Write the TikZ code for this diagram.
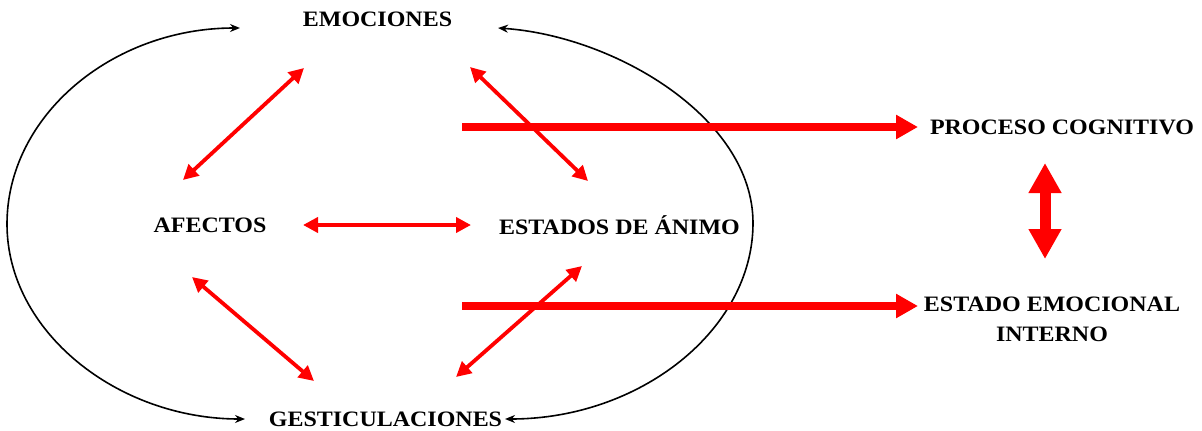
\documentclass[tikz,border=0pt]{standalone}
\usepackage{fontspec}
\setmainfont{Liberation Serif}
\usetikzlibrary{arrows.meta}
\newcommand{\lbl}[1]{\scalebox{1.09}[1]{#1}}
\begin{document}
\begin{tikzpicture}[x=1pt,y=-1pt,
  lab/.style={font=\fontsize{22}{30}\selectfont\bfseries, inner sep=0pt, align=center},
  thinred/.style={draw=red, line width=3.8pt, {Triangle[length=15pt,width=15pt]}-{Triangle[length=15pt,width=15pt]}, shorten <=0pt, shorten >=0pt},
  bigred/.style={draw=red, line width=7.5pt, -{Triangle[length=22pt,width=23pt]}},
  curve/.style={draw=black, line width=1.6pt, {Stealth[length=10pt,width=8pt]}-{Stealth[length=10pt,width=8pt]}}
]
\useasboundingbox (0,0) rectangle (1202,431);
\fill[white] (0,0) rectangle (1202,431);

% labels
\node[lab] (emo) at (377.5,19.5) {\lbl{EMOCIONES}};
\node[lab] (afe) at (210,225) {\lbl{AFECTOS}};
\node[lab] (est) at (619.5,225) {\lbl{ESTADOS DE ÁNIMO}};
\node[lab] (ges) at (385.5,419.5) {\lbl{GESTICULACIONES}};
\node[lab] (pro) at (1062,127) {\lbl{PROCESO COGNITIVO}};
\node[lab] (eei) at (1052,319) {\lbl{ESTADO EMOCIONAL}\\\lbl{INTERNO}};

% arrow end points
\coordinate (a1) at (304,68);  \coordinate (a2) at (183,180);
\coordinate (b1) at (470,67);  \coordinate (b2) at (588,181);
\coordinate (c1) at (303,225); \coordinate (c2) at (471,225);
\coordinate (d1) at (192,277); \coordinate (d2) at (314,381);
\coordinate (e1) at (582,266); \coordinate (e2) at (456,377);
\coordinate (p0) at (462,127); \coordinate (p1) at (918,127);
\coordinate (q0) at (462,306); \coordinate (q1) at (918,306);
\coordinate (v1) at (1045,163); \coordinate (v2) at (1045,259);

% black curves
\coordinate (lt) at (240,28); \coordinate (lm) at (7,224); \coordinate (lb) at (245,419);
\coordinate (rt) at (498,28); \coordinate (rm) at (753,223); \coordinate (rb) at (505,419);
\draw[curve] (lt) .. controls (112,28) and (7,116) .. (lm)
             .. controls (7,332) and (118,419) .. (lb);
\draw[curve] (rt) .. controls (615,36) and (753,118) .. (rm)
             .. controls (753,330) and (640,419) .. (rb);

% thin red double arrows
\draw[thinred] (a1) -- (a2);
\draw[thinred] (c1) -- (c2);
\draw[thinred] (d1) -- (d2);

% thick red arrows
\draw[bigred] (p0) -- (p1);
\draw[bigred] (q0) -- (q1);

\draw[thinred] (b1) -- (b2);
\draw[thinred] (e1) -- (e2);

% vertical double arrow
\draw[red, line width=11pt, {Triangle[length=30pt,width=31pt]}-{Triangle[length=30pt,width=31pt]}] (v1) -- (v2);
\end{tikzpicture}
\end{document}
